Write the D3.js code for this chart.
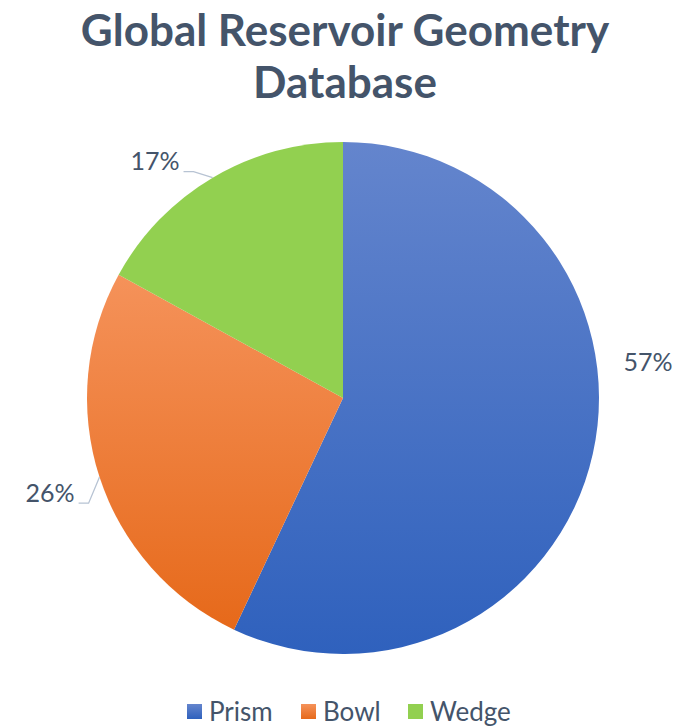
<!DOCTYPE html>
<html>
<head>
<meta charset="utf-8">
<script src="https://cdn.jsdelivr.net/npm/d3@7"></script>
<style>
  html, body { margin: 0; padding: 0; background: #ffffff; }
  svg { display: block; font-family: Lato, "Open Sans", sans-serif; }
</style>
</head>
<body>
<svg id="chart" width="700" height="727"></svg>
<script>
// Share of reservoir geometry types in the database
const categories = ["Prism", "Bowl", "Wedge"];
const shares = [57, 26, 17];
const titleLines = ["Global Reservoir Geometry", "Database"];

// Fill for each type: top and bottom gradient stops
const fillTop = ["#6485cd", "#f5925a", "#92d050"];
const fillBottom = ["#2f61bd", "#e6691a", "#92d050"];
const textColor = "#44546a";
const leaderColor = "#b7c3d3";

const width = 700, height = 727;
const cx = 343, cy = 398, radius = 256;

const svg = d3.select("#chart");
const defs = svg.append("defs");

categories.forEach((c, i) => {
  const g = defs.append("linearGradient")
    .attr("id", "grad-" + i)
    .attr("x1", 0).attr("y1", 0).attr("x2", 0).attr("y2", 1);
  g.append("stop").attr("offset", "0%").attr("stop-color", fillTop[i]);
  g.append("stop").attr("offset", "100%").attr("stop-color", fillBottom[i]);
});

// Title
svg.append("g").selectAll("text")
  .data(titleLines)
  .join("text")
  .attr("x", 345)
  .attr("y", (d, i) => 46 + i * 52)
  .attr("text-anchor", "middle")
  .attr("font-size", 44)
  .attr("font-weight", 700)
  .attr("fill", textColor)
  .text(d => d);

// Pie
const data = categories.map((c, i) => ({ name: c, value: shares[i], idx: i }));
const pie = d3.pie().value(d => d.value).sort(null);
const arcs = pie(data);
const arc = d3.arc().innerRadius(0).outerRadius(radius);

const gPie = svg.append("g").attr("transform", `translate(${cx},${cy})`);
gPie.selectAll("path")
  .data(arcs)
  .join("path")
  .attr("d", arc)
  .attr("fill", d => `url(#grad-${d.data.idx})`);

// Data labels: placement angle/radius per slice, leader line when pushed away
const labelLayout = {
  Prism: { angle: 83.3, r: 307, leader: false },
  Bowl:  { angle: null, r: 308, leader: true },
  Wedge: { angle: 321.5, r: 302, leader: true }
};
const toXY = (deg, r) => {
  const a = deg * Math.PI / 180;
  return [r * Math.sin(a), -r * Math.cos(a)];
};

const gLab = gPie.append("g");
arcs.forEach(d => {
  const lay = labelLayout[d.data.name];
  const midDeg = (d.startAngle + d.endAngle) / 2 * 180 / Math.PI;
  const deg = lay.angle == null ? midDeg : lay.angle;
  const [lx, ly] = toXY(deg, lay.r);
  const label = d.data.value + "%";
  const t = gLab.append("text")
    .attr("x", lx)
    .attr("y", ly)
    .attr("dy", "0.35em")
    .attr("text-anchor", "middle")
    .attr("font-size", 25)
    .attr("fill", textColor)
    .text(label);
  if (lay.leader) {
    const [ex, ey] = toXY(midDeg, radius);
    const textRight = lx + t.node().getComputedTextLength() / 2;
    const lineY = ly + 10;
    const elbowX = textRight + 11;
    gLab.insert("polyline", "text")
      .attr("points", [[textRight + 4, lineY], [elbowX + 3, lineY], [ex, ey]].map(p => p.join(",")).join(" "))
      .attr("fill", "none")
      .attr("stroke", leaderColor)
      .attr("stroke-width", 1.3);
  }
});

// Legend
const legendX = [187, 301, 408];
const gLeg = svg.append("g");
categories.forEach((c, i) => {
  const g = gLeg.append("g").attr("transform", `translate(${legendX[i]},704)`);
  g.append("rect")
    .attr("width", 15).attr("height", 15)
    .attr("fill", `url(#grad-${i})`);
  g.append("text")
    .attr("x", 22).attr("y", 7.5)
    .attr("dy", "0.36em")
    .attr("font-size", 26)
    .attr("fill", textColor)
    .text(c);
});
</script>
</body>
</html>
